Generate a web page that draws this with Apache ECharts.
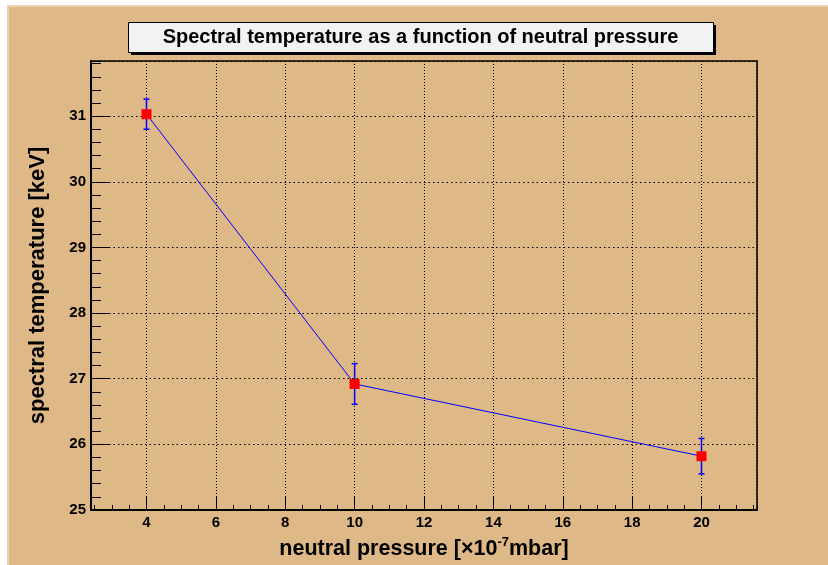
<!DOCTYPE html>
<html>
<head>
<meta charset="utf-8">
<script src="https://cdn.jsdelivr.net/npm/echarts@6/dist/echarts.min.js"></script>
<style>
html,body{margin:0;padding:0;background:#fff;}
#wrap{position:absolute;left:7px;top:5px;width:821px;height:560px;background:#deb887;}
#bevelT{position:absolute;left:0;top:0;width:821px;height:2px;background:#ecd3ad;z-index:2;}
#bevelL{position:absolute;left:0;top:0;width:2px;height:560px;background:#ecd3ad;z-index:2;}
#chart{position:absolute;left:0;top:0;width:821px;height:560px;}
</style>
</head>
<body>
<div id="wrap"><div id="chart"></div><div id="bevelT"></div><div id="bevelL"></div></div>
<script>
// ---- data ----
const pressure = [4, 10, 20];               // x 10^-7 mbar
const temperature = [31.03, 26.92, 25.82];  // keV
const tempError = [0.23, 0.31, 0.27];       // keV
const titleText = 'Spectral temperature as a function of neutral pressure';
const xTitle = 'neutral pressure';
const yTitle = 'spectral temperature [keV]';

const lineData = pressure.map((x, i) => [x, temperature[i]]);
const errData = pressure.map((x, i) => [x, temperature[i], tempError[i]]);

const FONT = '"Liberation Sans", Arial, Helvetica, sans-serif';
const chart = echarts.init(document.getElementById('chart'), null, {renderer: 'canvas'});

const gridL = 84, gridT = 56, gridW = 666, gridH = 450;

chart.setOption({
  animation: false,
  backgroundColor: '#deb887',
  grid: {left: gridL, top: gridT, width: gridW, height: gridH, show: true,
         backgroundColor: '#deb887', borderColor: '#000', borderWidth: 1.5},
  graphic: [
    {type: 'rect', left: 124, top: 20, shape: {width: 585, height: 30}, style: {fill: '#000'}, z: 10},
    {type: 'rect', left: 121, top: 17, shape: {width: 585, height: 30}, style: {fill: '#f2f2f2', stroke: '#000', lineWidth: 1}, z: 11},
    {type: 'text', x: 121 + 292.5, y: 17 + 15, z: 12,
     style: {text: titleText, font: 'bold 20px ' + FONT, fill: '#000', textAlign: 'center', textVerticalAlign: 'middle'}}
  ],
  xAxis: [
    {
      type: 'value', min: 2.4, max: 21.6, splitNumber: 10, position: 'bottom',
      name: '{t|' + xTitle + ' [×10}{s|-7}{t|mbar]}',
      nameLocation: 'middle', nameGap: 26,
      nameTextStyle: {rich: {
        t: {fontFamily: FONT, fontWeight: 'bold', fontSize: 21.5, color: '#000', verticalAlign: 'bottom', lineHeight: 24},
        s: {fontFamily: FONT, fontWeight: 'bold', fontSize: 13, color: '#000', verticalAlign: 'top', lineHeight: 24, padding: [0,0,11,0]}
      }},
      axisLine: {show: true, lineStyle: {color: '#000', width: 2}},
      axisTick: {show: true, inside: true, length: 13, lineStyle: {color: '#000', width: 1}},
      axisLabel: {showMinLabel: false, showMaxLabel: false, margin: 5,
                  fontFamily: FONT, fontWeight: 'bold', fontSize: 15, color: '#000'},
      splitLine: {show: true, lineStyle: {color: '#000', width: 1, type: [1, 2]}}
    },
    {
      type: 'value', min: 2.4, max: 21.6, splitNumber: 38, position: 'bottom',
      axisLine: {show: false}, axisLabel: {show: false}, splitLine: {show: false},
      axisTick: {show: true, inside: true, length: 5, lineStyle: {color: '#000', width: 1}}
    }
  ],
  yAxis: [
    {
      type: 'value', min: 25, max: 31.84, interval: 1, position: 'left',
      name: yTitle, nameLocation: 'middle', nameGap: 42,
      nameTextStyle: {fontFamily: FONT, fontWeight: 'bold', fontSize: 22, color: '#000'},
      axisLine: {show: true, lineStyle: {color: '#000', width: 2}},
      axisTick: {show: true, inside: true, length: 19, lineStyle: {color: '#000', width: 1}},
      axisLabel: {showMaxLabel: false, margin: 5,
                  fontFamily: FONT, fontWeight: 'bold', fontSize: 15, color: '#000'},
      splitLine: {show: true, lineStyle: {color: '#000', width: 1, type: [1.5, 3]}}
    },
    {
      type: 'value', min: 25, max: 31.84, interval: 0.2, position: 'left',
      axisLine: {show: false}, axisLabel: {show: false}, splitLine: {show: false},
      axisTick: {show: true, inside: true, length: 10, lineStyle: {color: '#000', width: 1}}
    }
  ],
  series: [
    {
      type: 'custom', xAxisIndex: 0, yAxisIndex: 0, data: errData, z: 3,
      renderItem: function (params, api) {
        const x = api.value(0), y = api.value(1), e = api.value(2);
        const hi = api.coord([x, y + e]);
        const lo = api.coord([x, y - e]);
        const st = {stroke: '#0000ff', lineWidth: 1.5};
        return {type: 'group', children: [
          {type: 'line', shape: {x1: hi[0], y1: hi[1], x2: lo[0], y2: lo[1]}, style: st},
          {type: 'line', shape: {x1: hi[0] - 3, y1: hi[1], x2: hi[0] + 3, y2: hi[1]}, style: st},
          {type: 'line', shape: {x1: lo[0] - 3, y1: lo[1], x2: lo[0] + 3, y2: lo[1]}, style: st}
        ]};
      }
    },
    {
      type: 'line', xAxisIndex: 0, yAxisIndex: 0, data: lineData, z: 4,
      symbol: 'rect', symbolSize: 10,
      lineStyle: {color: '#0000ff', width: 1},
      itemStyle: {color: '#ff0000', borderWidth: 0}
    }
  ]
});
</script>
</body>
</html>
